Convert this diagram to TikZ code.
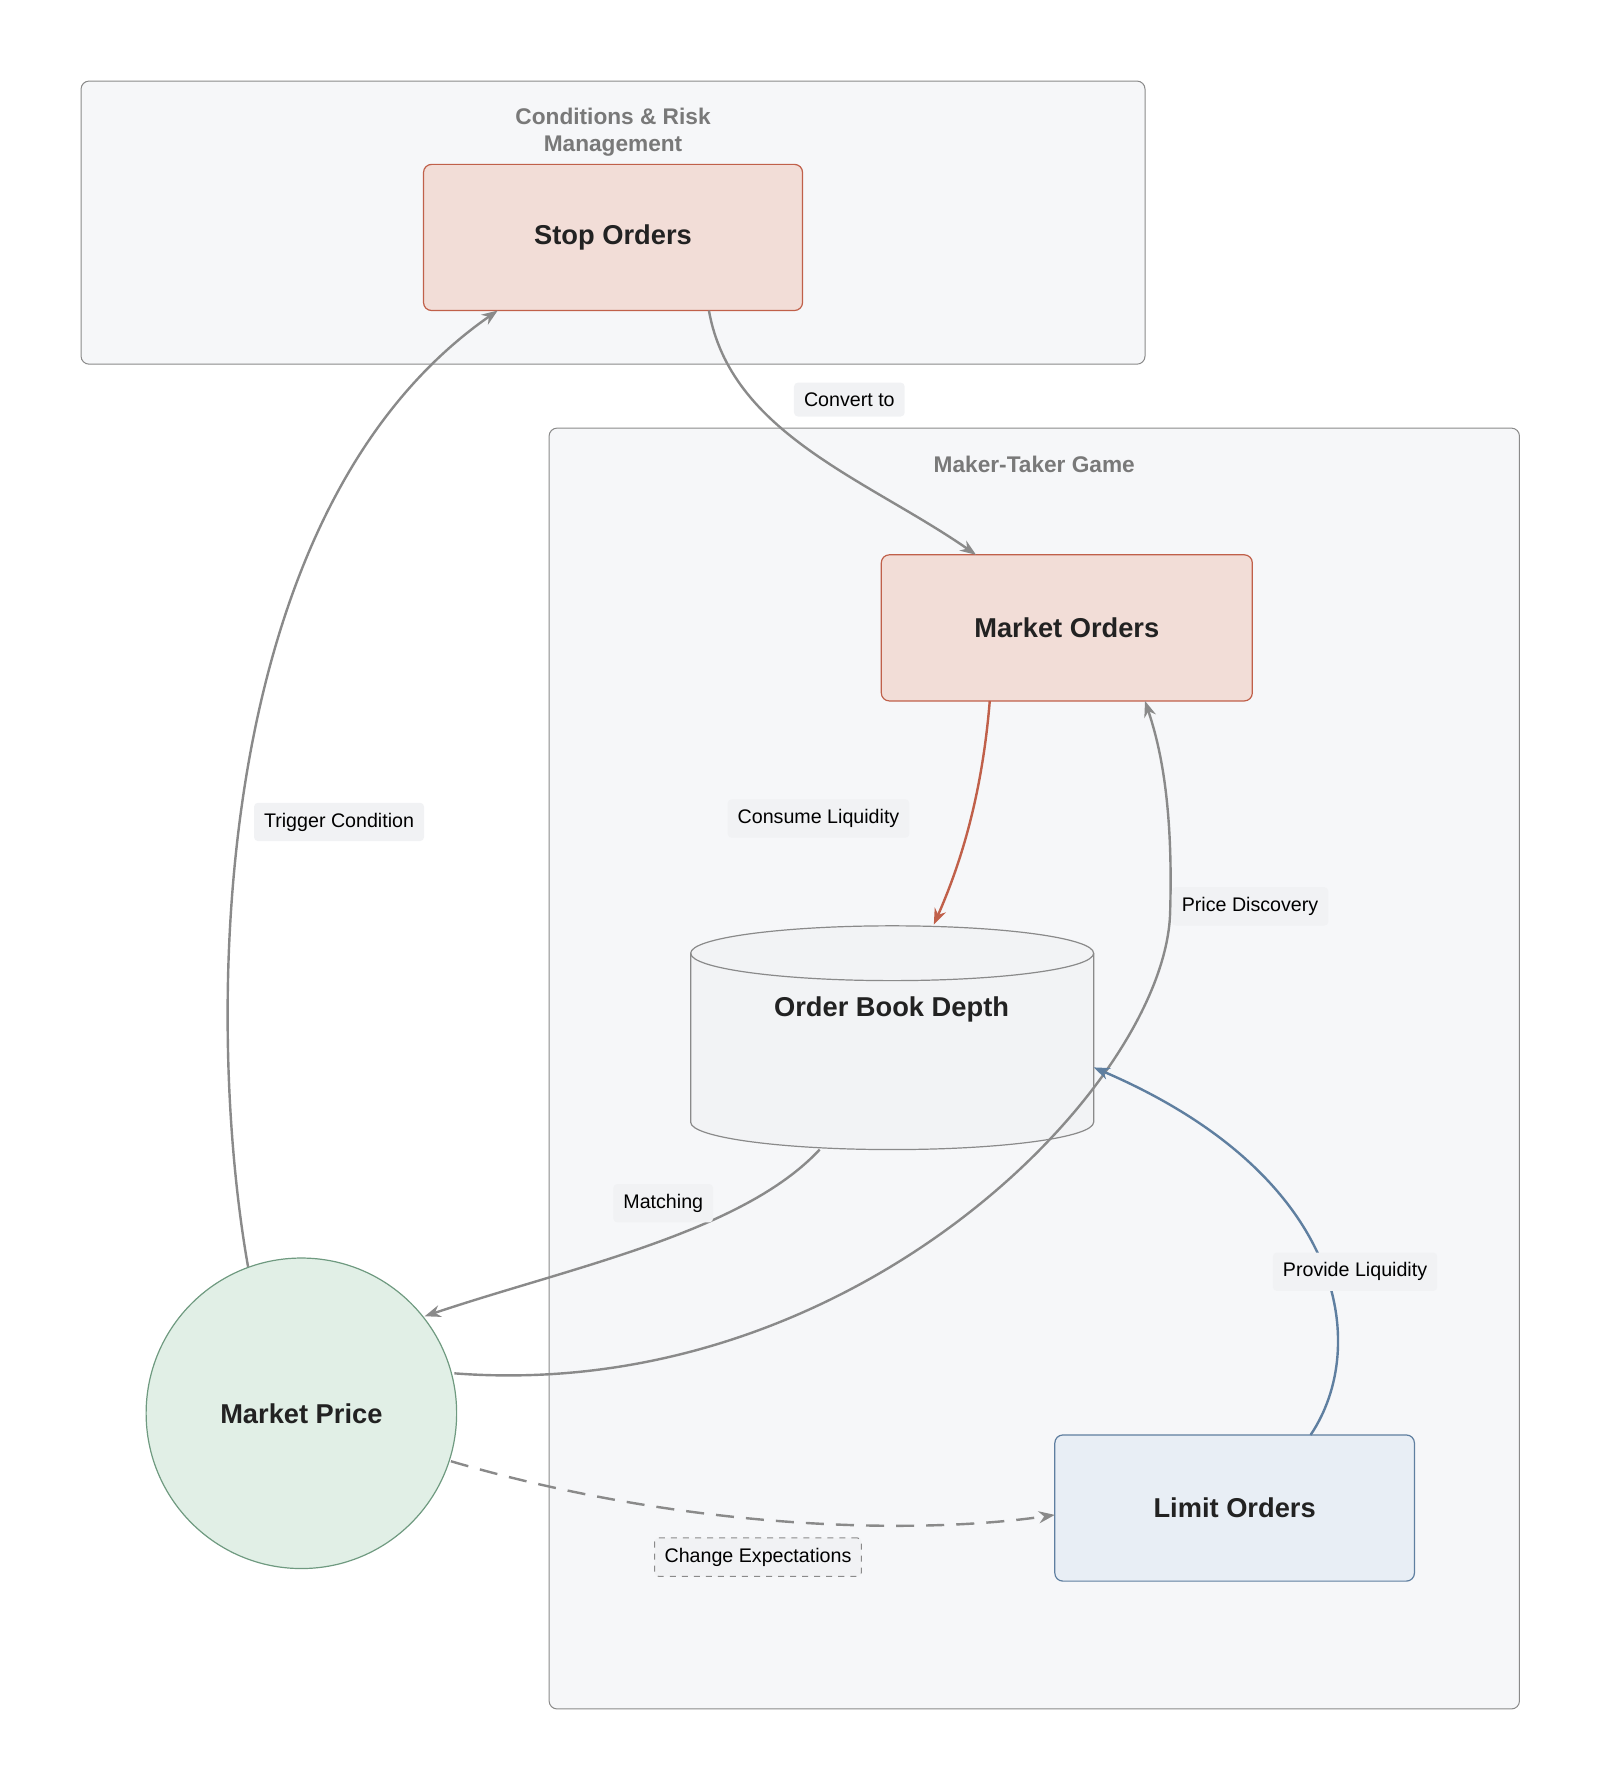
\documentclass[tikz,border=0pt]{standalone}
\usepackage{fontspec}
\setmainfont{Liberation Sans}
\usetikzlibrary{arrows.meta}
\definecolor{clfill}{HTML}{F6F7F9}
\definecolor{clline}{HTML}{8A8A8A}
\definecolor{cylfill}{HTML}{F2F3F5}
\definecolor{redfill}{HTML}{F2DDD7}
\definecolor{redline}{HTML}{C0604A}
\definecolor{greenfill}{HTML}{E1EFE6}
\definecolor{greenline}{HTML}{6F9A80}
\definecolor{bluefill}{HTML}{E8EEF5}
\definecolor{blueline}{HTML}{5F7FA0}
\definecolor{lblfill}{HTML}{F1F2F4}
\definecolor{txt}{HTML}{222222}
\begin{document}
\begin{tikzpicture}[x=0.02cm,y=-0.02cm,
 cluster/.style={draw=clline,fill=clfill,rounded corners=4pt,line width=0.5pt},
 ctitle/.style={text=gray!95!black,font=\fontsize{11.3}{13.5}\selectfont\bfseries,align=center},
 box/.style={draw,rounded corners=4pt,line width=0.6pt,text=txt,font=\fontsize{13.6}{16}\selectfont\bfseries},
 lbl/.style={fill=lblfill,rounded corners=2pt,text=black,font=\fontsize{9.8}{11}\selectfont,inner sep=5pt},
 edge/.style={draw=clline,line width=1.2pt,-{Stealth[length=8pt,width=6pt]}}]
\useasboundingbox (0,0) rectangle (1402,1568);
\draw[cluster] (71,71) rectangle (1003,319);
\node[ctitle] at (537,116) {Conditions \& Risk\\Management};
\draw[cluster] (481,375) rectangle (1331,1497);
\node[ctitle] at (906,407) {Maker-Taker Game};
\node[box,draw=redline,fill=redfill,minimum width=332*0.02cm,minimum height=128*0.02cm] (stop) at (537,208) {Stop Orders};
\node[box,draw=redline,fill=redfill,minimum width=325*0.02cm,minimum height=128*0.02cm] (mo) at (934.5,550) {Market Orders};
\node[box,draw=blueline,fill=bluefill,minimum width=315*0.02cm,minimum height=128*0.02cm] (lo) at (1081.5,1321) {Limit Orders};
\node[box,circle,draw=greenline,fill=greenfill,minimum size=272*0.02cm] (mp) at (264,1238) {Market Price};
% cylinder
\filldraw[draw=clline,fill=cylfill,line width=0.6pt] (605,835) -- (605,983) arc[start angle=180,end angle=360,x radius=176.5,y radius=-24] -- (958,835) arc[start angle=0,end angle=180,x radius=176.5,y radius=-24];
\draw[clline,line width=0.6pt] (605,835) arc[start angle=180,end angle=360,x radius=176.5,y radius=-24];
\node[text=txt,font=\fontsize{13.6}{16}\selectfont\bfseries] (ob) at (781,884) {Order Book Depth};
\coordinate (obtop) at (818,810);
\coordinate (obbot) at (718,1007);
\coordinate (obright) at (958,935);
% edges
\draw[edge] (mp.110) .. controls (180,900) and (180,450) .. (436,272);
\draw[edge] (621,272) .. controls (640,380) and (760,420) .. (855,486);
\draw[edge,draw=redline] (867,614) .. controls (860,700) and (840,760) .. (obtop);
\draw[edge] (obbot) .. controls (650,1080) and (500,1110) .. (372,1153);
\draw[edge] (398,1203) .. controls (750,1230) and (1020,950) .. (1025,800) .. controls (1028,700) and (1015,650) .. (1003,614);
\draw[edge,draw=blueline] (1148,1257) .. controls (1200,1180) and (1180,1030) .. (obright);
\draw[edge,dashed,dash pattern=on 9pt off 6pt] (395,1280) .. controls (600,1340) and (800,1345) .. (924,1327);
% labels
\node[lbl] at (297,720) {Trigger Condition};
\node[lbl] at (744,350) {Convert to};
\node[lbl] at (717,717) {Consume Liquidity};
\node[lbl] at (581,1054) {Matching};
\node[lbl] at (1095,794) {Price Discovery};
\node[lbl] at (1187,1114) {Provide Liquidity};
\node[lbl,draw=clline,dashed,line width=0.5pt] at (664,1364) {Change Expectations};
\end{tikzpicture}
\end{document}
